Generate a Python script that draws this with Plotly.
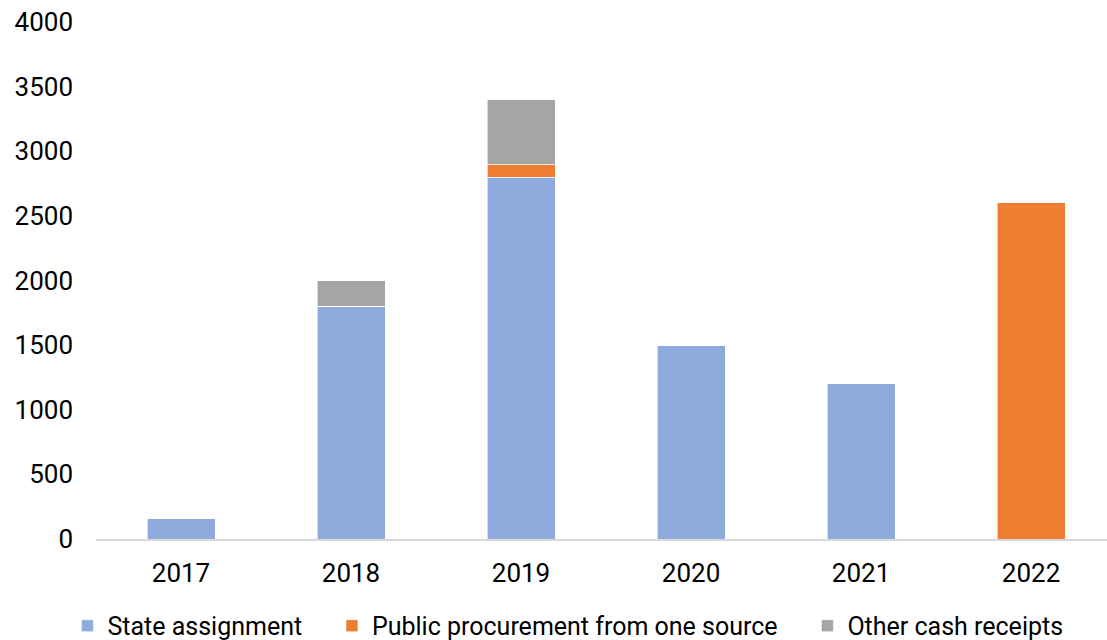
import plotly.graph_objects as go

years = ["2017", "2018", "2019", "2020", "2021", "2022"]
state_assignment = [160, 1800, 2800, 1500, 1200, 0]
public_procurement = [0, 0, 100, 0, 0, 2600]
other_receipts = [0, 200, 500, 0, 0, 0]

series = [
    ("State assignment", state_assignment, "#8FAADC"),
    ("Public procurement from one source", public_procurement, "#ED7D31"),
    ("Other cash receipts", other_receipts, "#A5A5A5"),
]

fig = go.Figure()
for i, (name, vals, color) in enumerate(series):
    # non-breaking padding widens the spacing between legend entries
    label = name + ("\u00a0" * 4 if i < len(series) - 1 else "")
    fig.add_trace(go.Bar(
        x=years, y=vals, name=label,
        hovertemplate=name + ": %{y}<extra></extra>",
        marker=dict(color=color, line=dict(color="white", width=0.6)),
    ))

tick_font = dict(family="Roboto, Liberation Sans, sans-serif", size=26, color="#000000")
legend_font = dict(family="Roboto, Liberation Sans, sans-serif", size=25, color="#000000")

fig.update_layout(
    barmode="stack",
    bargap=0.6,
    width=1107, height=640,
    margin=dict(l=96, r=0, t=22, b=101, autoexpand=False),
    plot_bgcolor="white", paper_bgcolor="white",
    font=tick_font,
    showlegend=True,
    legend=dict(orientation="h", xref="container", yref="container",
                x=0.513, xanchor="center", y=0.022, yanchor="middle",
                font=legend_font, itemwidth=30, traceorder="normal"),
    xaxis=dict(showline=True, linecolor="#D9D9D9", linewidth=1.5, ticks="",
               range=[-0.5, 5.447],
               showgrid=False, tickfont=tick_font, ticklabelstandoff=10),
    yaxis=dict(range=[0, 4000], dtick=500, showgrid=False, zeroline=False,
               showline=False, ticks="", tickfont=tick_font, ticklabelstandoff=22),
)

fig.write_html("out.html")
